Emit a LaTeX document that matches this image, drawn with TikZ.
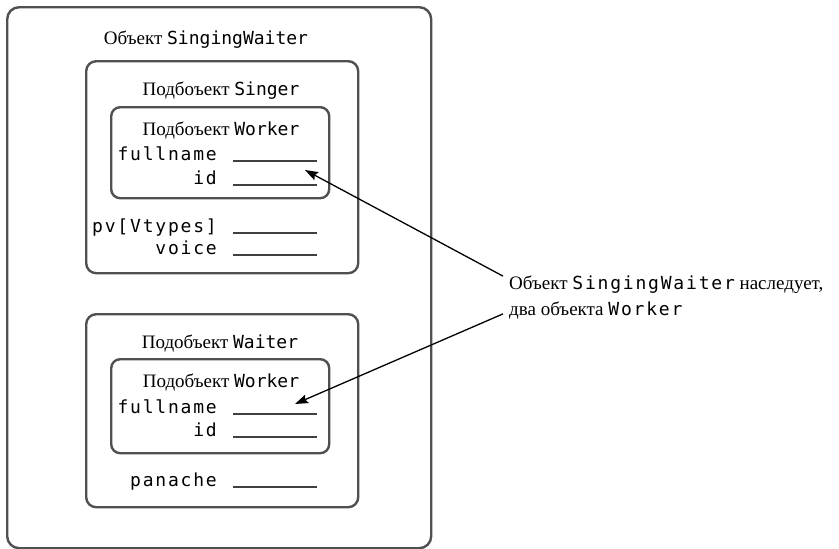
\documentclass[tikz,border=0pt]{standalone}
\usepackage{fontspec}
\setmainfont{Liberation Serif}
\newfontfamily\codefont{DejaVu Sans Mono}[LetterSpace=10]
\newfontfamily\namefont{DejaVu Sans Mono}
\usetikzlibrary{arrows.meta, calc}

\definecolor{framegray}{HTML}{505050}
\definecolor{blankgray}{HTML}{404040}
\newcommand{\code}[1]{{\fontsize{18}{26}\namefont #1}}
\newcommand{\wide}[1]{{\fontsize{18}{26}\codefont #1}}

\begin{document}
\begin{tikzpicture}[
    x=1pt, y=-1pt,
    font=\fontsize{19}{26}\selectfont,
    >={Stealth[length=13pt, width=9pt, inset=2pt]},
    every node/.style={inner sep=0pt},
    frame/.style={
        draw=framegray, line width=2.4pt, rounded corners=10pt, anchor=north west
    },
    heading/.style={anchor=base},
    field/.style={anchor=base east, font=\fontsize{18}{22}\codefont},
    blank/.style={draw=blankgray, line width=2pt},
    flow/.style={->, line width=1.3pt}
]
\useasboundingbox (0,0) rectangle (839,549);

% --------------------------------------------------------------------------
% Nested frames: object -> subobjects -> Worker subobjects.
% --------------------------------------------------------------------------
\node[frame, rounded corners=12pt, minimum width=424pt, minimum height=541pt] (obj) at (6,6) {};
\node[frame, minimum width=272pt, minimum height=212pt] (singer) at (85,60) {};
\node[frame, rounded corners=9pt, minimum width=218pt, minimum height=91pt] (workerA) at (110,106) {};
\node[frame, minimum width=272pt, minimum height=193pt] (waiter) at (85,313) {};
\node[frame, rounded corners=9pt, minimum width=218pt, minimum height=94pt] (workerB) at (110,358) {};

% Frame headings.
\node[heading] (objtitle) at (206,44) {Объект \code{SingingWaiter}};
\node[heading] (singertitle) at (221,95) {Подбоъект \code{Singer}};
\node[heading] (workerAtitle) at (221,135) {Подбоъект \code{Worker}};
\node[heading] (waitertitle) at (220,348) {Подобъект \code{Waiter}};
\node[heading] (workerBtitle) at (221,387) {Подобъект \code{Worker}};

% Data members with their blanks.
\node[field] (fnA) at (217,160) {fullname};
\node[field] (idA) at (217,184) {id};
\node[field] (pv) at (217,232) {pv[Vtypes]};
\node[field] (voice) at (217,254) {voice};
\node[field] (fnB) at (217,413) {fullname};
\node[field] (idB) at (217,436) {id};
\node[field] (panache) at (217,486) {panache};

\foreach \f in {fnA, idA, pv, voice, fnB, idB, panache}
    \draw[blank] ([xshift=16pt, yshift=-1pt]\f.base east) -- ++(84,0);

% Note on the right and its two pointers.
\node[anchor=west, align=left] (note) at (509,297)
    {Объект \wide{SingingWaiter} наследует,\\два объекта \wide{Worker}};

\coordinate (tipA) at (305,170);
\coordinate (tipB) at (295,404);
\draw[flow] ([xshift=-6pt, yshift=-1pt]note.north west) -- (tipA);
\draw[flow] ([xshift=-6pt, yshift=5pt]note.south west) -- (tipB);

\end{tikzpicture}
\end{document}
